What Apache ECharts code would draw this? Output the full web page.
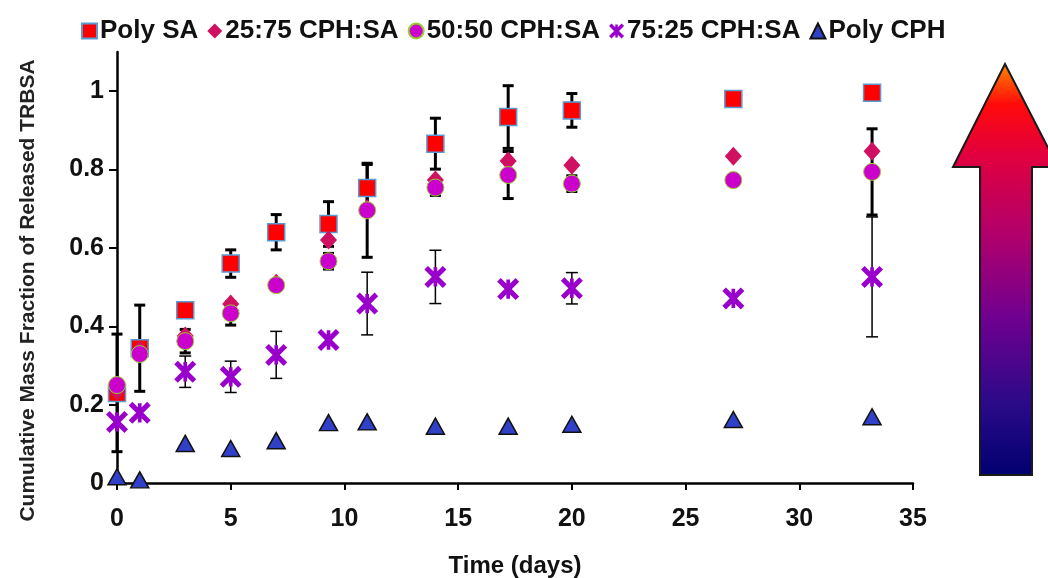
<!DOCTYPE html>
<html><head><meta charset="utf-8">
<script src="https://cdn.jsdelivr.net/npm/echarts@6/dist/echarts.min.js"></script>
<style>html,body{margin:0;padding:0;background:#fff}#c{width:1048px;height:578px}</style>
</head><body><div id="c"></div>
<script>
// ---- data ----
const days = [0, 1, 3, 5, 7, 9.3, 11, 14, 17.2, 20, 27.1, 33.2];
const seriesNames = ['Poly SA', '25:75 CPH:SA', '50:50 CPH:SA', '75:25 CPH:SA', 'Poly CPH'];
const polySA      = [0.230, 0.344, 0.441, 0.560, 0.640, 0.661, 0.753, 0.866, 0.934, 0.951, 0.980, 0.996];
const polySAErr   = [0.150, 0.110, 0.015, 0.035, 0.045, 0.057, 0.060, 0.065, 0.080, 0.043, 0.000, 0.012];
const cph2575     = [0.235, 0.340, 0.375, 0.457, 0.510, 0.620, 0.700, 0.773, 0.822, 0.811, 0.834, 0.847];
const cph2575Err  = [0, 0, 0, 0, 0, 0, 0, 0, 0, 0, 0, 0];
const cph5050     = [0.250, 0.329, 0.362, 0.433, 0.505, 0.566, 0.696, 0.754, 0.786, 0.764, 0.773, 0.794];
const cph5050Err  = [0.000, 0.000, 0.030, 0.030, 0.010, 0.020, 0.120, 0.020, 0.060, 0.020, 0.000, 0.110];
const cph7525     = [0.156, 0.179, 0.284, 0.271, 0.327, 0.365, 0.458, 0.526, 0.495, 0.497, 0.471, 0.526];
const cph7525Err  = [0.000, 0.000, 0.040, 0.040, 0.060, 0.000, 0.080, 0.068, 0.000, 0.040, 0.000, 0.153];
const polyCPH     = [0.016, 0.008, 0.101, 0.088, 0.108, 0.154, 0.156, 0.145, 0.145, 0.150, 0.162, 0.169];
const xTicks = [0, 5, 10, 15, 20, 25, 30, 35];
const yTicks = [0, 0.2, 0.4, 0.6, 0.8, 1];

const FONT = "'Liberation Sans', Arial, sans-serif";
const starPath = 'path://M17.8,2.2L97.8,82.2L82.2,97.8L2.2,17.8Z M82.2,2.2L97.8,17.8L17.8,97.8L2.2,82.2Z M42,8L58,8L58,92L42,92Z';

function pts(vals) { return days.map((d, i) => [d, vals[i]]); }
function errPts(vals, errs) { return days.map((d, i) => [d, vals[i], errs[i]]); }
function errSeries(vals, errs, lw, cap) {
  return {
    type: 'custom', z: 1, silent: true,
    data: errPts(vals, errs),
    renderItem: function (params, api) {
      const x = api.value(0), y = api.value(1), e = api.value(2);
      if (!e) return null;
      const t = api.coord([x, y + e]), b = api.coord([x, y - e]);
      const st = { stroke: '#000', lineWidth: lw };
      return { type: 'group', children: [
        { type: 'line', shape: { x1: t[0], y1: t[1], x2: b[0], y2: b[1] }, style: st },
        { type: 'line', shape: { x1: t[0] - cap / 2, y1: t[1], x2: t[0] + cap / 2, y2: t[1] }, style: st },
        { type: 'line', shape: { x1: b[0] - cap / 2, y1: b[1], x2: b[0] + cap / 2, y2: b[1] }, style: st }
      ]};
    }
  };
}

const chart = echarts.init(document.getElementById('c'), null, { renderer: 'canvas' });
chart.setOption({
  animation: false,
  backgroundColor: '#fff',
  textStyle: { fontFamily: FONT },
  legend: {
    left: 76, top: 13, itemGap: 9, itemWidth: 15, itemHeight: 15,
    textStyle: { fontFamily: FONT, fontWeight: 'bold', fontSize: 26, color: '#111', padding: [0, 0, 0, -2] },
    data: [
      { name: seriesNames[0], icon: 'rect' },
      { name: seriesNames[1], icon: 'diamond' },
      { name: seriesNames[2], icon: 'circle' },
      { name: seriesNames[3], icon: starPath },
      { name: seriesNames[4], icon: 'triangle' }
    ]
  },
  grid: { left: 117, right: 135, top: 52, bottom: 95, containLabel: false, outerBoundsMode: 'none' },
  xAxis: {
    type: 'value', min: 0, max: 35, interval: 5,
    name: 'Time (days)', nameLocation: 'middle', nameGap: 71,
    nameTextStyle: { fontFamily: FONT, fontWeight: 'bold', fontSize: 24, color: '#111' },
    axisLine: { lineStyle: { color: '#000', width: 2.5 } },
    axisTick: { length: 7, lineStyle: { color: '#000', width: 2 }, customValues: xTicks },
    axisLabel: { margin: 24, fontFamily: FONT, fontWeight: 'bold', fontSize: 25, color: '#111', customValues: xTicks },
    splitLine: { show: false }
  },
  yAxis: {
    type: 'value', min: 0, max: 1.1, interval: 0.2,
    name: 'Cumulative Mass Fraction of Released TRBSA', nameLocation: 'middle', nameGap: 78,
    nameTextStyle: { fontFamily: FONT, fontWeight: 'bold', fontSize: 21, color: '#222', padding: [0, 46, 0, 0] },
    axisLine: { show: true, lineStyle: { color: '#000', width: 2.5 } },
    axisTick: { show: true, length: 8, lineStyle: { color: '#000', width: 2 }, customValues: yTicks },
    axisLabel: { margin: 13, fontFamily: FONT, fontWeight: 'bold', fontSize: 25, color: '#111', customValues: yTicks },
    splitLine: { show: false }
  },
  graphic: [{
    type: 'polygon', z: 10,
    shape: { points: [[1005, 64], [1058, 167], [1032, 167], [1032, 475], [980, 475], [980, 167], [953, 167]] },
    style: {
      stroke: '#1a1a1a', lineWidth: 2,
      fill: new echarts.graphic.LinearGradient(0, 0, 0, 1, [
        { offset: 0, color: '#ff8a00' },
        { offset: 0.1, color: '#ff0a0a' },
        { offset: 0.22, color: '#e2003e' },
        { offset: 0.42, color: '#b0006c' },
        { offset: 0.62, color: '#6e0090' },
        { offset: 0.82, color: '#2c0a88' },
        { offset: 1, color: '#000070' }
      ])
    }
  }],
  series: [
    errSeries(polySA, polySAErr, 3, 11),
    errSeries(cph2575, cph2575Err, 3, 11),
    errSeries(cph5050, cph5050Err, 3, 11),
    errSeries(cph7525, cph7525Err, 1.5, 12),
    {
      name: seriesNames[0], type: 'scatter', z: 3, symbol: 'rect', symbolSize: 17,
      itemStyle: { color: '#ff0000', borderColor: '#5b9bd5', borderWidth: 1.5, opacity: 1 },
      data: pts(polySA)
    },
    {
      name: seriesNames[1], type: 'scatter', z: 4, symbol: 'diamond', symbolSize: [17, 19],
      itemStyle: { color: '#d01060', opacity: 1 },
      data: pts(cph2575)
    },
    {
      name: seriesNames[2], type: 'scatter', z: 5, symbol: 'circle', symbolSize: 17,
      itemStyle: { color: '#cc00cc', borderColor: '#9acd32', borderWidth: 1, opacity: 1 },
      data: pts(cph5050)
    },
    {
      name: seriesNames[3], type: 'scatter', z: 6, symbol: starPath, symbolSize: 22,
      itemStyle: { color: '#9900cc', opacity: 1 },
      data: pts(cph7525)
    },
    {
      name: seriesNames[4], type: 'scatter', z: 7, symbol: 'triangle', symbolSize: [18, 16],
      itemStyle: { color: '#3040c8', borderColor: '#111', borderWidth: 1.5, opacity: 1 },
      data: pts(polyCPH)
    }
  ]
});
</script>
</body></html>
